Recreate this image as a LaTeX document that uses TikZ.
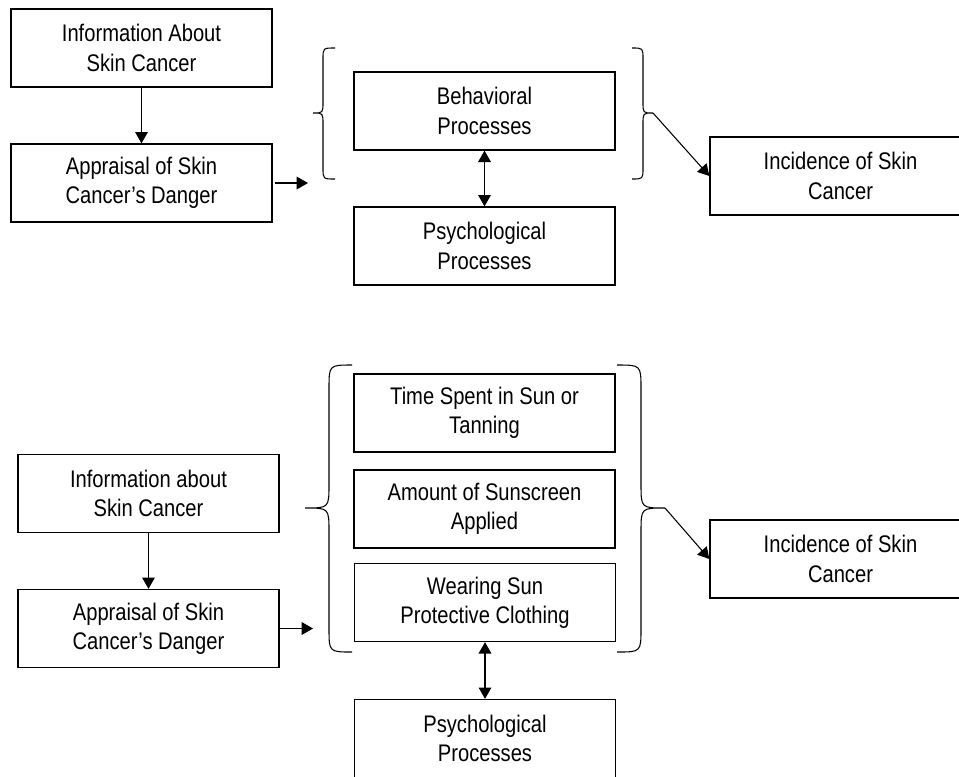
\documentclass[tikz,border=0pt]{standalone}
\usepackage{fontspec}
\setmainfont[FakeStretch=0.84]{Liberation Sans}
\usetikzlibrary{arrows.meta}

\tikzset{
  box/.style={draw, line width=1pt, minimum width=195.75pt, minimum height=58.5pt,
    inner sep=0pt, align=center, font=\fontsize{18}{22}\selectfont},
  conn/.style={line width=0.8pt, -{Triangle[length=8.5pt,width=9.5pt]}},
  biconn/.style={line width=0.8pt, {Triangle[length=8.5pt,width=9.5pt]}-{Triangle[length=8.5pt,width=9.5pt]}},
  brace/.style={line width=0.8pt}
}

\begin{document}
\begin{tikzpicture}[x=0.75pt,y=-0.75pt]
    \useasboundingbox (0,0) rectangle (959,776);

    % upper model
    \node[box] (info1)  at (141.5,48)  {Information About\\Skin Cancer};
    \node[box] (appr1)  at (141.5,183) {Appraisal of Skin\\Cancer’s Danger};
    \node[box] (behav1) at (484.5,111) {Behavioral\\Processes};
    \node[box] (psych1) at (484.5,246) {Psychological\\Processes};
    \node[box] (incid1) at (840.5,176) {Incidence of Skin\\Cancer};

    \coordinate (brL1) at (313,113);
    \coordinate (brR1) at (653,113);
    \coordinate (in1)  at (308,183);

    \draw[brace] (335,48) .. controls (323,48) .. (323,59) -- (323,102)
      .. controls (323,113) .. (brL1) .. controls (323,113) .. (323,124)
      -- (323,168) .. controls (323,179) .. (335,179);
    \draw[brace] (632,48) .. controls (643,48) .. (643,59) -- (643,102)
      .. controls (643,113) .. (brR1) .. controls (643,113) .. (643,124)
      -- (643,168) .. controls (643,179) .. (632,179);

    \draw[conn] (info1) -- (appr1);
    \draw[conn] (appr1.east) ++(2,0) -- (in1);
    \draw[biconn] (behav1) -- (psych1);
    \draw[conn] (brR1) -- (incid1.west);

    % lower model
    \node[box] (info2)   at (148.5,493.5) {Information about\\Skin Cancer};
    \node[box] (appr2)   at (148.5,628.5) {Appraisal of Skin\\Cancer’s Danger};
    \node[box] (time2)   at (484.5,413)   {Time Spent in Sun or\\Tanning};
    \node[box] (amount2) at (484.5,509)   {Amount of Sunscreen\\Applied};
    \node[box] (wear2)   at (485,602.5)   {Wearing Sun\\Protective Clothing};
    \node[box] (psych2)  at (485,738.5)   {Psychological\\Processes};
    \node[box] (incid2)  at (840.5,559)   {Incidence of Skin\\Cancer};

    \coordinate (brL2) at (305,508);
    \coordinate (brR2) at (665,508);
    \coordinate (in2)  at (313,628.5);

    \draw[brace] (352,365) .. controls (329,365) .. (329,389) -- (329,484)
      .. controls (329,508) .. (brL2) .. controls (329,508) .. (329,532)
      -- (329,628) .. controls (329,652) .. (352,652);
    \draw[brace] (617,365) .. controls (641,365) .. (641,389) -- (641,484)
      .. controls (641,508) .. (brR2) .. controls (641,508) .. (641,532)
      -- (641,628) .. controls (641,652) .. (617,652);

    \draw[conn] (info2) -- (appr2);
    \draw[conn] (appr2) -- (in2);
    \draw[biconn] (wear2) -- (psych2);
    \draw[conn] (brR2) -- (incid2.west);
\end{tikzpicture}
\end{document}
